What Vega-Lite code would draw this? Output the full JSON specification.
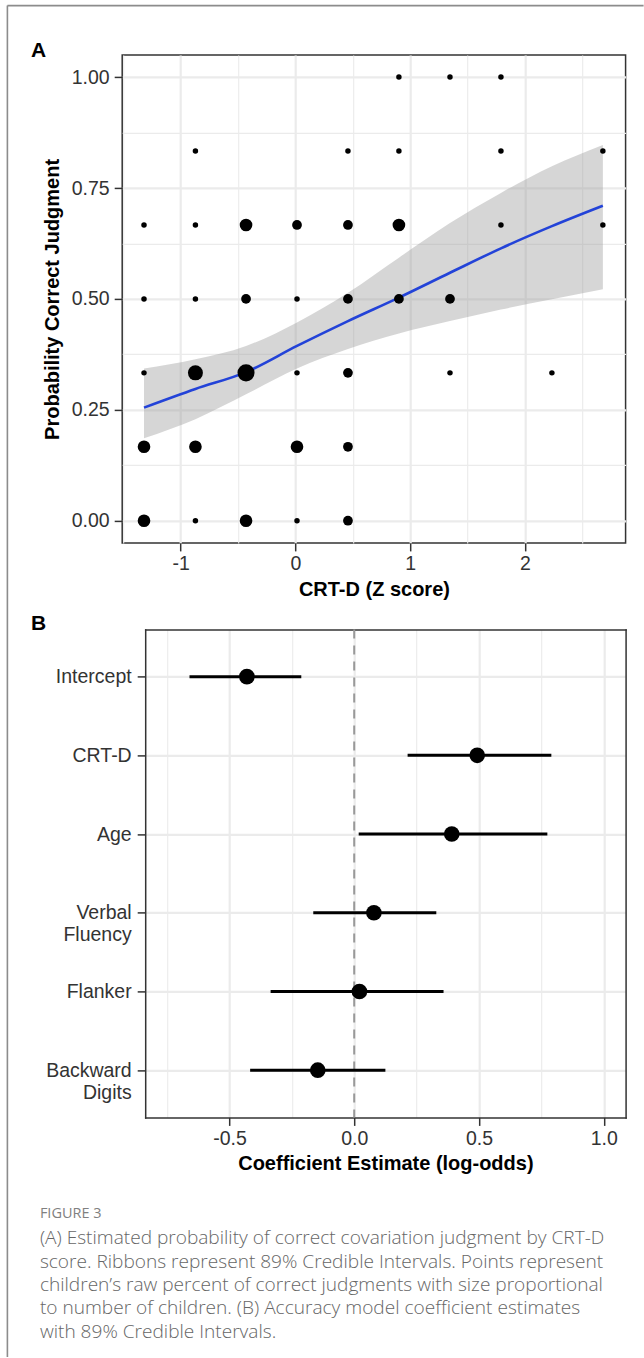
{
  "$schema": "https://vega.github.io/schema/vega-lite/v6.json",
  "background": "white",
  "padding": {"left": 6.2, "top": 4.9, "right": 0, "bottom": 0},
  "config": {
    "font": "Liberation Sans",
    "view": {"stroke": "#333333", "strokeWidth": 1.5},
    "axis": {
      "domain": false,
      "grid": true,
      "gridColor": "#ebebeb",
      "tickColor": "#333333",
      "tickSize": 8,
      "tickWidth": 1.5,
      "labelFont": "Liberation Sans",
      "labelFontSize": 19.5,
      "labelColor": "#333333",
      "labelPadding": 4,
      "titleFont": "Liberation Sans",
      "titleFontSize": 20,
      "titleFontWeight": "bold",
      "titleColor": "#000000"
    }
  },
  "datasets": {
    "frame": [{"v": 0}],
    "points": [
      {"x": 0.902, "y": 1.0, "n": 1},
      {"x": 1.347, "y": 1.0, "n": 1},
      {"x": 1.791, "y": 1.0, "n": 1},
      {"x": -0.871, "y": 0.8333, "n": 1},
      {"x": 0.458, "y": 0.8333, "n": 1},
      {"x": 0.902, "y": 0.8333, "n": 1},
      {"x": 1.791, "y": 0.8333, "n": 1},
      {"x": 2.679, "y": 0.8333, "n": 1},
      {"x": -1.319, "y": 0.6667, "n": 1},
      {"x": -0.871, "y": 0.6667, "n": 1},
      {"x": -0.430, "y": 0.6667, "n": 3},
      {"x": 0.014, "y": 0.6667, "n": 2},
      {"x": 0.458, "y": 0.6667, "n": 2},
      {"x": 0.902, "y": 0.6667, "n": 3},
      {"x": 1.791, "y": 0.6667, "n": 1},
      {"x": 2.679, "y": 0.6667, "n": 1},
      {"x": -1.319, "y": 0.5, "n": 1},
      {"x": -0.871, "y": 0.5, "n": 1},
      {"x": -0.430, "y": 0.5, "n": 2},
      {"x": 0.014, "y": 0.5, "n": 1},
      {"x": 0.458, "y": 0.5, "n": 2},
      {"x": 0.902, "y": 0.5, "n": 2},
      {"x": 1.347, "y": 0.5, "n": 2},
      {"x": -1.319, "y": 0.3333, "n": 1},
      {"x": -0.871, "y": 0.3333, "n": 4},
      {"x": -0.430, "y": 0.3333, "n": 5},
      {"x": 0.014, "y": 0.3333, "n": 1},
      {"x": 0.458, "y": 0.3333, "n": 2},
      {"x": 1.347, "y": 0.3333, "n": 1},
      {"x": 2.235, "y": 0.3333, "n": 1},
      {"x": -1.319, "y": 0.1667, "n": 3},
      {"x": -0.871, "y": 0.1667, "n": 3},
      {"x": 0.014, "y": 0.1667, "n": 3},
      {"x": 0.458, "y": 0.1667, "n": 2},
      {"x": -1.319, "y": 0.0, "n": 3},
      {"x": -0.871, "y": 0.0, "n": 1},
      {"x": -0.430, "y": 0.0, "n": 3},
      {"x": 0.014, "y": 0.0, "n": 1},
      {"x": 0.458, "y": 0.0, "n": 2}
    ],
    "ribbon": [
      {"x": -1.319, "lo": 0.186, "fit": 0.255, "hi": 0.343},
      {"x": -0.871, "lo": 0.229, "fit": 0.297, "hi": 0.364},
      {"x": -0.430, "lo": 0.285, "fit": 0.335, "hi": 0.394},
      {"x": 0.014, "lo": 0.343, "fit": 0.394, "hi": 0.447},
      {"x": 0.458, "lo": 0.387, "fit": 0.450, "hi": 0.514},
      {"x": 0.902, "lo": 0.422, "fit": 0.503, "hi": 0.593},
      {"x": 1.347, "lo": 0.450, "fit": 0.559, "hi": 0.671},
      {"x": 1.791, "lo": 0.476, "fit": 0.614, "hi": 0.739},
      {"x": 2.235, "lo": 0.499, "fit": 0.664, "hi": 0.799},
      {"x": 2.679, "lo": 0.522, "fit": 0.710, "hi": 0.847}
    ],
    "coefs": [
      {"term": "Intercept", "est": -0.430, "lo": -0.660, "hi": -0.212},
      {"term": "CRT-D", "est": 0.493, "lo": 0.214, "hi": 0.790},
      {"term": "Age", "est": 0.391, "lo": 0.018, "hi": 0.774},
      {"term": "Verbal Fluency", "est": 0.079, "lo": -0.164, "hi": 0.329},
      {"term": "Flanker", "est": 0.021, "lo": -0.335, "hi": 0.358},
      {"term": "Backward Digits", "est": -0.146, "lo": -0.417, "hi": 0.125}
    ],
    "reference": [{"ref": 0}]
  },
  "bounds": "flush",
  "spacing": 86.5,
  "vconcat": [
    {
      "title": {"text": "A", "anchor": "start", "frame": "group", "dx": -91.3, "dy": 23, "offset": 0, "baseline": "alphabetic", "fontSize": 21, "fontWeight": "bold", "font": "Liberation Sans", "color": "#000000"},
      "width": 503.4,
      "height": 488,
      "encoding": {
        "x": {
          "field": "x",
          "type": "quantitative",
          "title": "CRT-D (Z score)",
          "scale": {"domain": [-1.509, 2.877], "nice": false, "zero": false},
          "axis": {
            "values": [-1.5, -1, -0.5, 0, 0.5, 1, 1.5, 2, 2.5],
            "labelExpr": "abs(datum.value - round(datum.value)) > 0.01 ? '' : (datum.value < 0 ? '-' : '') + format(abs(datum.value), 'd')",
            "gridWidth": {"condition": {"test": "abs(datum.value - round(datum.value)) > 0.01", "value": 1.1}, "value": 2.2},
            "tickOpacity": {"condition": {"test": "abs(datum.value - round(datum.value)) > 0.01", "value": 0}, "value": 1},
            "titlePadding": 6
          }
        }
      },
      "layer": [
        {
          "data": {"name": "ribbon"},
          "mark": {"type": "area", "fill": "#999999", "opacity": 0.4, "interpolate": "monotone"},
          "encoding": {
            "y": {
              "field": "lo",
              "type": "quantitative",
              "title": "Probability Correct Judgment",
              "scale": {"domain": [-0.05, 1.05], "nice": false, "zero": false},
              "axis": {
                "values": [0, 0.125, 0.25, 0.375, 0.5, 0.625, 0.75, 0.875, 1],
                "labelExpr": "(datum.value * 4) % 1 != 0 ? '' : format(datum.value, '.2f')",
                "gridWidth": {"condition": {"test": "(datum.value * 4) % 1 != 0", "value": 1.1}, "value": 2.2},
                "tickOpacity": {"condition": {"test": "(datum.value * 4) % 1 != 0", "value": 0}, "value": 1},
                "labelPadding": 5,
                "titlePadding": 9
              }
            },
            "y2": {"field": "hi"}
          }
        },
        {
          "data": {"name": "ribbon"},
          "mark": {"type": "line", "color": "#2343d8", "strokeWidth": 2.6, "interpolate": "monotone"},
          "encoding": {
            "y": {"field": "fit", "type": "quantitative", "title": "Probability Correct Judgment"}
          }
        },
        {
          "data": {"name": "points"},
          "mark": {"type": "circle", "color": "#000000", "opacity": 1},
          "encoding": {
            "y": {"field": "y", "type": "quantitative", "title": "Probability Correct Judgment"},
            "size": {"field": "n", "type": "quantitative", "scale": {"domain": [1, 5], "range": [30, 290]}, "legend": null}
          }
        }
      ]
    },
    {
      "title": {"text": "B", "anchor": "start", "frame": "group", "dx": -91.3, "dy": 23, "offset": 0, "baseline": "alphabetic", "fontSize": 21, "fontWeight": "bold", "font": "Liberation Sans", "color": "#000000"},
      "width": 503.4,
      "height": 488,
      "view": {"stroke": null},
      "resolve": {"axis": {"x": "independent", "y": "independent"}},
      "layer": [
        {
          "encoding": {
            "x": {
              "type": "quantitative",
              "title": "Coefficient Estimate (log-odds)",
              "scale": {"domain": [-0.8375, 1.0875], "range": [23, 503.4], "nice": false, "zero": false},
              "axis": {
                "values": [-0.75, -0.5, -0.25, 0, 0.25, 0.5, 0.75, 1],
                "labelExpr": "(datum.value * 2) % 1 != 0 ? '' : (datum.value < 0 ? '-' : '') + format(abs(datum.value), '.1f')",
                "gridWidth": {"condition": {"test": "(datum.value * 2) % 1 != 0", "value": 1.1}, "value": 2.2},
                "tickOpacity": {"condition": {"test": "(datum.value * 2) % 1 != 0", "value": 0}, "value": 1},
                "domain": true,
                "domainColor": "#333333",
                "domainWidth": 1.5,
                "domainCap": "square",
                "titlePadding": 6
              }
            }
          },
          "layer": [
            {
              "data": {"name": "reference"},
              "mark": {"type": "rule", "color": "#999999", "strokeWidth": 2, "strokeDash": [9, 7]},
              "encoding": {
                "x": {"field": "ref", "type": "quantitative"}
              }
            },
            {
              "data": {"name": "coefs"},
              "mark": {"type": "rule", "color": "#000000", "strokeWidth": 3},
              "encoding": {
                "x": {"field": "lo", "type": "quantitative"},
                "x2": {"field": "hi"},
                "y": {
                  "field": "term",
                  "type": "nominal",
                  "title": null,
                  "sort": ["Intercept", "CRT-D", "Age", "Verbal Fluency", "Flanker", "Backward Digits"],
                  "scale": {"type": "point", "padding": 0.6},
                  "axis": {
                    "offset": -23,
                    "labelExpr": "indexof(datum.value, ' ') > 0 ? split(datum.value, ' ') : datum.value",
                    "labelLineHeight": 22,
                    "gridWidth": 2.2,
                    "labelPadding": 6,
                    "domain": true,
                    "domainColor": "#333333",
                    "domainWidth": 1.5,
                    "domainCap": "square"
                  }
                }
              }
            },
            {
              "data": {"name": "coefs"},
              "mark": {"type": "circle", "color": "#000000", "opacity": 1, "size": 245},
              "encoding": {
                "x": {"field": "est", "type": "quantitative"},
                "y": {"field": "term", "type": "nominal", "sort": ["Intercept", "CRT-D", "Age", "Verbal Fluency", "Flanker", "Backward Digits"]}
              }
            }
          ]
        },
        {
          "data": {"name": "coefs"},
          "mark": {"type": "text", "text": "", "fontSize": 0, "baseline": "top"},
          "encoding": {
            "x": {
              "field": "est",
              "type": "quantitative",
              "axis": {"orient": "top", "domain": true, "domainColor": "#333333", "domainWidth": 1.5, "domainCap": "square", "labels": false, "ticks": false, "tickSize": 0, "labelPadding": 0, "minExtent": 0, "maxExtent": 0, "grid": false, "title": null}
            },
            "y": {
              "field": "term",
              "type": "nominal",
              "sort": ["Intercept", "CRT-D", "Age", "Verbal Fluency", "Flanker", "Backward Digits"],
              "axis": {"orient": "right", "domain": true, "domainColor": "#333333", "domainWidth": 1.5, "domainCap": "square", "labels": false, "ticks": false, "tickSize": 0, "labelPadding": 0, "minExtent": 0, "maxExtent": 0, "grid": false, "title": null}
            }
          }
        }
      ]
    },
    {
      "title": {
        "text": "FIGURE 3",
        "subtitle": [
          "(A) Estimated probability of correct covariation judgment by CRT-D",
          "score. Ribbons represent 89% Credible Intervals. Points represent",
          "children’s raw percent of correct judgments with size proportional",
          "to number of children. (B) Accuracy model coefficient estimates",
          "with 89% Credible Intervals."
        ],
        "orient": "bottom",
        "anchor": "start",
        "frame": "group",
        "dx": -82.3,
        "offset": 2,
        "font": "Open Sans",
        "fontSize": 14.5,
        "fontWeight": "normal",
        "color": "#808080",
        "subtitleFont": "Open Sans",
        "subtitleFontSize": 19.1,
        "subtitleFontWeight": 300,
        "subtitleColor": "#666666",
        "subtitleLineHeight": 23.3,
        "subtitlePadding": 8
      },
      "width": 503.4,
      "height": 1,
      "view": {"stroke": null},
      "data": {"name": "frame"},
      "mark": {"type": "text", "text": "", "fontSize": 0, "baseline": "top"}
    },
    {
      "width": 1,
      "height": 1,
      "view": {"stroke": null},
      "data": {"name": "frame"},
      "mark": {"type": "text", "text": "", "fontSize": 0, "baseline": "top", "align": "left"},
      "encoding": {
        "x": {
          "field": "v",
          "type": "quantitative",
          "scale": {"domain": [0, 1], "range": [-115.3, 520.9]},
          "axis": {"orient": "top", "offset": 1286.3, "domain": true, "domainColor": "#8c8c8c", "domainWidth": 1.6, "ticks": false, "tickSize": 0, "labels": false, "labelPadding": 0, "minExtent": 0, "maxExtent": 0, "grid": false, "title": null}
        },
        "y": {
          "field": "v",
          "type": "quantitative",
          "scale": {"domain": [0, 1], "range": [-1286.3, 65]},
          "axis": {"orient": "left", "offset": 115.3, "domain": true, "domainColor": "#8c8c8c", "domainWidth": 1.6, "ticks": false, "tickSize": 0, "labels": false, "labelPadding": 0, "minExtent": 0, "maxExtent": 0, "grid": false, "title": null}
        }
      }
    }
  ]
}
